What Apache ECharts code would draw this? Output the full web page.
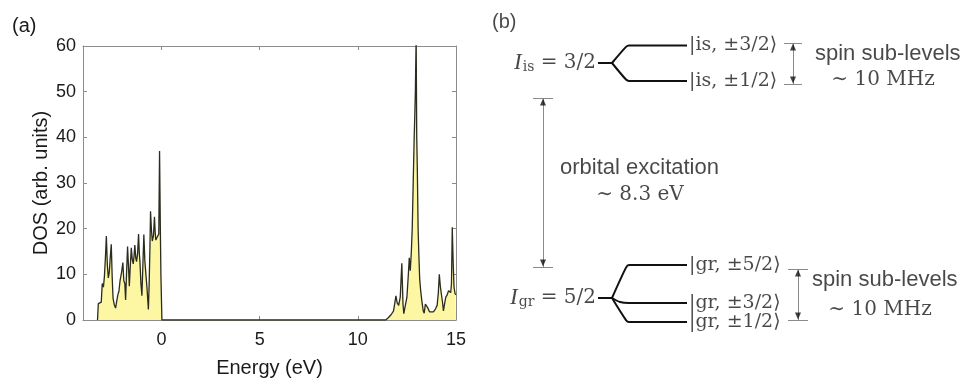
<!DOCTYPE html>
<html>
<head>
<meta charset="utf-8">
<script src="https://cdn.jsdelivr.net/npm/echarts@6/dist/echarts.min.js"></script>
<style>
  html, body { margin: 0; padding: 0; background: #fff; }
  #chart { width: 970px; height: 383px; }
</style>
</head>
<body>
<div id="chart"></div>
<script>
// DOS curve
const energy = [
  -3.26, -3.22, -3.12, -3.07, -3.02, -2.96, -2.91, -2.86, -2.81, -2.76,
  -2.71, -2.66, -2.61, -2.56, -2.51, -2.47, -2.41, -2.34, -2.28, -2.22,
  -2.17, -2.11, -2.04, -1.97, -1.92, -1.87, -1.83, -1.78, -1.73, -1.68,
  -1.64, -1.59, -1.54, -1.49, -1.44, -1.40, -1.36, -1.31, -1.27, -1.22,
  -1.17, -1.13, -1.10, -1.05, -1.00, -0.95, -0.90, -0.85, -0.80, -0.74,
  -0.67, -0.63, -0.59, -0.56, -0.51, -0.47, -0.41, -0.36, -0.32, -0.29,
  -0.24, -0.19, -0.14, -0.10, -0.06, -0.03, 0.02,
  11.42, 11.55, 11.70, 11.82, 11.90, 11.94, 12.00, 12.08, 12.16, 12.24,
  12.30, 12.34, 12.42, 12.50, 12.57, 12.62, 12.67, 12.72, 12.77, 12.82,
  12.87, 12.90, 12.93, 12.97, 13.00, 13.03, 13.07, 13.11, 13.15, 13.20,
  13.26, 13.33, 13.38, 13.44, 13.50, 13.57, 13.65, 13.74, 13.85, 13.95,
  14.04, 14.10, 14.15, 14.20, 14.25, 14.31, 14.36, 14.42, 14.48, 14.55,
  14.62, 14.68, 14.73, 14.77, 14.81, 14.86, 14.90, 14.95, 15.00
];
const dos = [
  0, 3.6, 3.7, 3.9, 8.0, 7.2, 9.5, 13.5, 18.4, 12.0,
  9.2, 10.5, 13.8, 16.6, 9.0, 4.8, 3.4, 2.6, 4.2, 5.6,
  6.3, 8.7, 10.3, 12.6, 8.6, 8.0, 4.4, 10.5, 16.1, 11.5,
  7.4, 12.0, 15.8, 13.2, 12.3, 14.0, 16.4, 13.5, 12.8, 14.5,
  18.8, 14.5, 12.9, 8.0, 5.3, 12.0, 18.7, 13.0, 10.2, 7.0,
  2.3, 7.8, 16.0, 23.8, 19.5, 17.3, 18.5, 22.6, 19.0, 17.5,
  18.0, 18.4, 18.8, 37.0, 20.0, 9.6, 0,
  0, 0.5, 1.2, 2.0, 4.2, 5.3, 3.8, 3.2, 5.0, 12.4,
  3.5, 1.4, 1.8, 5.0, 9.8, 13.6, 10.8, 14.5, 20.0, 30.0,
  40.0, 44.5, 50.0, 62.0, 40.0, 33.0, 20.0, 14.0, 9.0, 6.5,
  4.2, 2.0, 1.5, 3.5, 3.6, 2.6, 1.8, 1.5, 1.8, 2.4,
  3.2, 6.0, 10.0, 7.5, 5.8, 4.0, 2.0, 3.6, 5.0, 5.5,
  6.4, 6.8, 6.0, 8.0, 20.3, 12.0, 7.2, 5.8, 5.5
];
const xTicks = [0, 5, 10, 15];
const yTicks = [0, 10, 20, 30, 40, 50, 60];

// panel (b) level scheme, in diagram units
const stemX = [118, 132];
const levelX = [149, 207];
const isStemY = 63;
const isLevelY = [45.5, 81];
const isKets = ['|is, ±3/2⟩', '|is, ±1/2⟩'];
const grStemY = 298;
const grLevelY = [265, 303, 322];
const grKets = ['|gr, ±5/2⟩', '|gr, ±3/2⟩', '|gr, ±1/2⟩'];
// arrows: [x, yTop, yBottom, barHalfWidth]
const arrows = [[63, 98, 267, 10], [313, 43, 84, 9], [318, 269, 320, 10]];

const SANS = 'Liberation Sans, Arial, sans-serif';
const SERIF = 'DejaVu Serif, Liberation Serif, serif';

const dosData = energy.map((e, i) => [e, dos[i]]);

function levelSeries(stemY, ys) {
  const out = [{ data: [[stemX[0], stemY], [stemX[1], stemY]] }];
  ys.forEach(y => {
    const bend = Math.abs(y - stemY) < 8 ? [stemX[1] + 8, y - (y - stemY) * 0.2] : [levelX[0] - 3, y + (stemY - y) * 0.08];
    out.push({ data: [[stemX[1], stemY], bend, [levelX[0], y], [levelX[1], y]] });
  });
  return out.map(s => ({
    type: 'line', xAxisIndex: 2, yAxisIndex: 2, data: s.data,
    symbol: 'none', smooth: 0.25, lineStyle: { color: '#111', width: 2 }, silent: true
  }));
}

function textPoint(x, y, text, extra) {
  return {
    type: 'scatter', xAxisIndex: 2, yAxisIndex: 2, symbolSize: 0, silent: true,
    data: [[x, y]],
    label: Object.assign({ show: true, formatter: text, color: '#1a1a1a', fontFamily: SANS, fontSize: 22 }, extra)
  };
}

const mathRich = {
  it: { fontFamily: 'Liberation Serif, serif', fontStyle: 'italic', fontSize: 23, color: '#1a1a1a' },
  sub: { fontFamily: SERIF, fontSize: 14, color: '#1a1a1a', padding: [9, 0, 0, 1] },
  n: { fontFamily: SERIF, fontSize: 20, color: '#1a1a1a' }
};

const series = [
  {
    type: 'line', data: dosData, symbol: 'none', clip: true,
    lineStyle: { color: '#2b2b1e', width: 1.3 },
    areaStyle: { color: '#fdf7a4', opacity: 1 }
  },
  ...levelSeries(isStemY, isLevelY),
  ...levelSeries(grStemY, grLevelY),
  // gray shafts and end bars of the arrows
  {
    type: 'lines', coordinateSystem: 'cartesian2d', xAxisIndex: 2, yAxisIndex: 2, silent: true,
    symbol: 'none', lineStyle: { color: '#8a8a8a', width: 1, opacity: 1 },
    data: arrows.flatMap(a => [
      { coords: [[a[0], a[1]], [a[0], a[2]]] },
      { coords: [[a[0] - a[3], a[1]], [a[0] + a[3], a[1]]] },
      { coords: [[a[0] - a[3], a[2]], [a[0] + a[3], a[2]]] }
    ])
  },
  // black arrow heads
  {
    type: 'scatter', xAxisIndex: 2, yAxisIndex: 2, silent: true,
    symbol: 'triangle', symbolSize: [6, 7], symbolOffset: [0, 4],
    itemStyle: { color: '#111' },
    data: arrows.map(a => [a[0], a[1]])
  },
  {
    type: 'scatter', xAxisIndex: 2, yAxisIndex: 2, silent: true,
    symbol: 'triangle', symbolSize: [6, 7], symbolRotate: 180, symbolOffset: [0, -4],
    itemStyle: { color: '#111' },
    data: arrows.map(a => [a[0], a[2]])
  },
  textPoint(12, 22, '(b)', { position: 'right', distance: 0, fontSize: 20 }),
  textPoint(stemX[0] - 2, isStemY, '{it|I}{sub|is}{n| = 3/2}', { position: 'left', distance: 0, rich: mathRich }),
  textPoint(stemX[0] - 2, grStemY, '{it|I}{sub|gr}{n| = 5/2}', { position: 'left', distance: 0, rich: mathRich }),
  ...isKets.map((k, i) => textPoint(levelX[1] + 2, isLevelY[i], k, { position: 'right', distance: 0, fontFamily: SERIF, fontSize: 19 })),
  ...grKets.map((k, i) => textPoint(levelX[1] + 2, grLevelY[i], k, { position: 'right', distance: 0, fontFamily: SERIF, fontSize: 19 })),
  textPoint(335, 54, 'spin sub-levels', { position: 'right', distance: 0 }),
  textPoint(403, 80, '∼ 10 MHz', { position: 'inside', fontFamily: SERIF, fontSize: 20 }),
  textPoint(332, 280, 'spin sub-levels', { position: 'right', distance: 0 }),
  textPoint(400, 310, '∼ 10 MHz', { position: 'inside', fontFamily: SERIF, fontSize: 20 }),
  textPoint(80, 168, 'orbital excitation', { position: 'right', distance: 0 }),
  textPoint(160, 195, '∼ 8.3 eV', { position: 'inside', fontFamily: SERIF, fontSize: 20 })
];

const axisGray = '#8c8c8c';
const option = {
  animation: false,
  backgroundColor: '#fff',
  title: {
    text: '(a)', left: 7, top: 11,
    textStyle: { fontFamily: SANS, fontSize: 20, fontWeight: 'normal', color: '#1a1a1a' }
  },
  grid: [
    { left: 83, top: 46, width: 373, height: 278 },
    { left: 480, top: 0, width: 490, height: 383 }
  ],
  xAxis: [
    {
      type: 'value', gridIndex: 0, min: -4, max: 15,
      name: 'Energy (eV)', nameLocation: 'middle', nameGap: 38,
      nameTextStyle: { fontFamily: SANS, fontSize: 20, color: '#1a1a1a' },
      axisLine: { onZero: false, lineStyle: { color: axisGray } },
      axisTick: { inside: true, length: 4, customValues: xTicks, lineStyle: { color: axisGray } },
      axisLabel: { customValues: xTicks, fontFamily: SANS, fontSize: 18, color: '#1a1a1a', margin: 11 },
      splitLine: { show: false }
    },
    {
      type: 'value', gridIndex: 0, min: -4, max: 15, position: 'top',
      axisLine: { onZero: false, lineStyle: { color: axisGray } },
      axisTick: { inside: true, length: 4, customValues: xTicks, lineStyle: { color: axisGray } },
      axisLabel: { show: false }, splitLine: { show: false }
    },
    { type: 'value', gridIndex: 1, min: 0, max: 490, show: false }
  ],
  yAxis: [
    {
      type: 'value', gridIndex: 0, min: 0, max: 60, interval: 10,
      name: 'DOS (arb. units)', nameLocation: 'middle', nameGap: 32,
      nameTextStyle: { fontFamily: SANS, fontSize: 20, color: '#1a1a1a' },
      axisLine: { show: true, onZero: false, lineStyle: { color: axisGray } },
      axisTick: { show: true, inside: true, length: 4, lineStyle: { color: axisGray } },
      axisLabel: { fontFamily: SANS, fontSize: 18, color: '#1a1a1a', margin: 7,
        formatter: v => (yTicks.includes(v) ? String(v) : '') },
      splitLine: { show: false }
    },
    {
      type: 'value', gridIndex: 0, min: 0, max: 60, interval: 10, position: 'right',
      axisLine: { show: true, onZero: false, lineStyle: { color: axisGray } },
      axisTick: { show: true, inside: true, length: 4, lineStyle: { color: axisGray } },
      axisLabel: { show: false }, splitLine: { show: false }
    },
    { type: 'value', gridIndex: 1, min: 0, max: 383, inverse: true, show: false }
  ],
  series: series
};

const myChart = echarts.init(document.getElementById('chart'), null, { renderer: 'canvas' });
myChart.setOption(option);
window.addEventListener('resize', () => {
  myChart.resize();
});
</script>
</body>
</html>
